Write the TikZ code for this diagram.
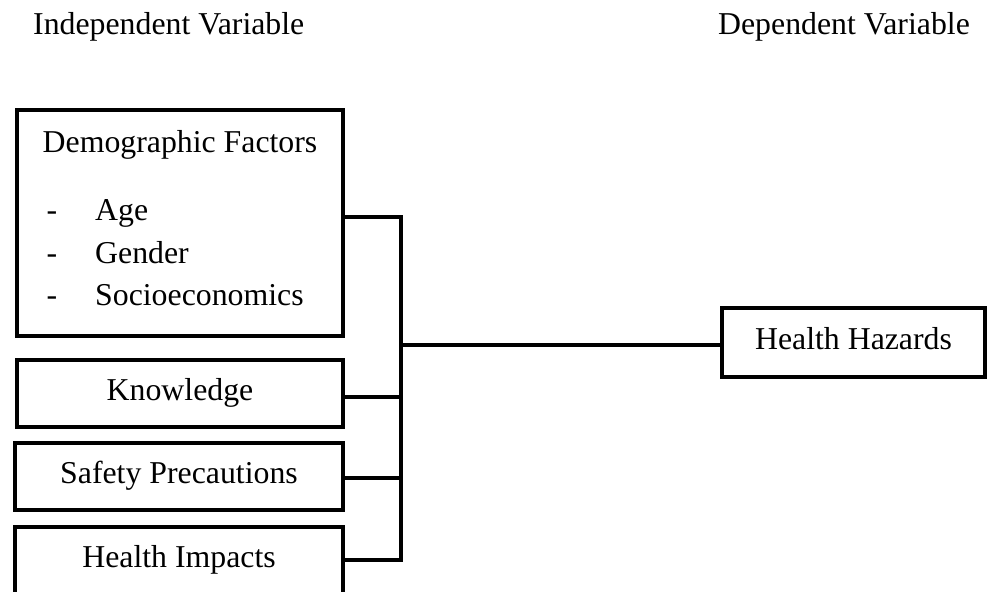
\documentclass[tikz,border=0pt]{standalone}
\usepackage{fontspec}
\setmainfont{Liberation Serif}
\begin{document}
\begin{tikzpicture}[x=1bp,y=-1bp,
  every node/.style={font=\fontsize{31.8bp}{38bp}\selectfont, inner sep=0pt},
  box/.style={draw=black, line width=4bp, outer sep=0pt, minimum width=326bp, minimum height=67bp,
    text height=21.7bp, text depth=6.9bp},
  wire/.style={line width=4bp, draw=black},
  wireshadow/.style={line width=4bp, draw=black!18, xshift=1.5bp, yshift=-2bp}
]
\useasboundingbox (0,0) rectangle (987,592);
\clip (0,0) rectangle (987,592);
\fill[white] (0,0) rectangle (987,592);

% headers
\node[anchor=base west] (indep) at (33,35) {Independent Variable};
\node[anchor=base east] (dep) at (970,35) {Dependent Variable};

% boxes
\node[box, minimum height=226bp] (demo) at (180,223) {};
\node[anchor=base] (demot) at (180,153) {Demographic Factors};
\node[anchor=base] (d1) at (52,221) {-};
\node[anchor=base] (d2) at (52,263.5) {-};
\node[anchor=base] (d3) at (52,305.5) {-};
\node[anchor=base west] (age) at (95,221) {Age};
\node[anchor=base west] (gen) at (95,263.5) {Gender};
\node[anchor=base west] (soc) at (95,305.5) {Socioeconomics};

\node[box] (kn) at (180,393.5) {Knowledge};
\node[box, minimum width=328bp] (sp) at (179,476.5) {Safety Precautions};
\node[box, minimum width=328bp] (hi) at (179,560.5) {Health Impacts};
\node[box, minimum width=263bp, minimum height=69bp] (hh) at (853.5,342.5) {Health Hazards};

% bus coordinates
\coordinate (b1) at (401,217);
\coordinate (b2) at (401,397);
\coordinate (b3) at (401,478);
\coordinate (b4) at (401,560);
\coordinate (bm) at (401,345);

% shadows
\begin{scope}[wireshadow]
\draw (demo.east |- b1) -- (b1) -- (b4) -- (hi.east |- b4);
\draw (kn.east |- b2) -- (b2);
\draw (sp.east |- b3) -- (b3);
\draw (bm) -- (bm -| hh.west);
\end{scope}

% connectors
\draw[wire] (demo.east |- b1) -- (b1) -- (b4) -- (hi.east |- b4);
\draw[wire] (kn.east |- b2) -- (b2);
\draw[wire] (sp.east |- b3) -- (b3);
\draw[wire] (bm) -- (bm -| hh.west);

% redraw box outlines on top of shadows
\draw[line width=4bp] (demo.north west) rectangle (demo.south east);
\draw[line width=4bp] (kn.north west) rectangle (kn.south east);
\draw[line width=4bp] (sp.north west) rectangle (sp.south east);
\draw[line width=4bp] (hi.north west) rectangle (hi.south east);
\draw[line width=4bp] (hh.north west) rectangle (hh.south east);
\end{tikzpicture}
\end{document}
